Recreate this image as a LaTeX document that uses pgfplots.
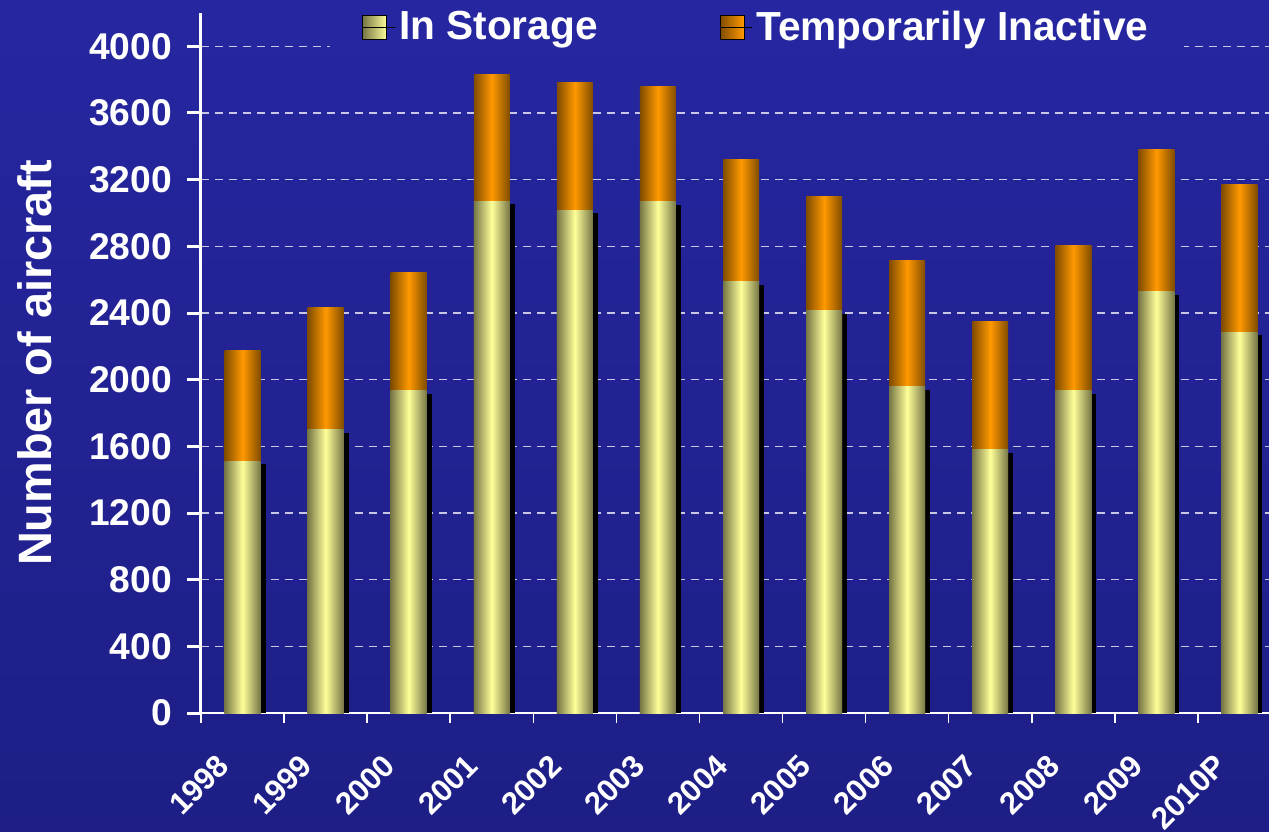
\documentclass[border=0pt]{standalone}
\usepackage{pgfplots}
\pgfplotsset{compat=1.18}
\usepackage{pgfplotstable}
\usepackage{fontspec}
\setmainfont{Liberation Sans}

\definecolor{bgtop}{RGB}{38,38,160}
\definecolor{bgmid}{RGB}{51,51,204}
\definecolor{bgbot}{RGB}{30,30,134}
\definecolor{ydark}{RGB}{118,118,70}
\definecolor{ylight}{RGB}{255,255,153}
\definecolor{odark}{RGB}{128,76,0}
\definecolor{olight}{RGB}{255,153,0}

% storage = In Storage, total = In Storage + Temporarily Inactive (bar top)
\pgfplotstableread{
x storage total shadow
0  1510 2174 1492
1  1700 2432 1682
2  1934 2642 1916
3  3070 3830 3052
4  3016 3782 2998
5  3068 3758 3050
6  2588 3320 2570
7  2414 3098 2396
8  1958 2714 1940
9  1580 2348 1562
10 1934 2804 1916
11 2528 3380 2510
12 2284 3170 2266
}\datatable

\begin{document}
\begin{tikzpicture}
\useasboundingbox (0,0) rectangle (634.5pt,415.5pt);
\shade[top color=bgtop, middle color=bgmid, bottom color=bgbot] (0,0) rectangle (634.5pt,415.5pt);
\clip (0,0) rectangle (634.5pt,415.5pt);

\begin{axis}[
  scale only axis,
  width=540pt, height=350pt,
  at={(100.5pt,59pt)}, anchor=south west,
  xmin=-0.5, xmax=12.5,
  ymin=0, ymax=4200,
  axis x line=bottom, axis y line=left,
  x axis line style={-, white, line width=0.8pt},
  y axis line style={-, white, line width=1.5pt},
  ytick={0,400,...,4000},
  ymajorgrids,
  grid style={white, opacity=0.75, dash pattern=on 4pt off 3pt, line width=0.6pt},
  tick align=outside,
  ytick style={white, line width=1.5pt},
  major tick length=7pt,
  xtick={0,...,12},
  xticklabels={1998,1999,2000,2001,2002,2003,2004,2005,2006,2007,2008,2009,2010P},
  major x tick style={draw=none},
  minor xtick={-0.5,0.5,...,12.5},
  minor x tick style={white, line width=0.8pt},
  minor tick length=5pt,
  /pgf/number format/assume math mode=true,
  /pgf/number format/1000 sep={},
  yticklabel style={text=white, font=\fontsize{18.6}{22}\selectfont\bfseries, anchor=east, xshift=-4pt},
  xticklabel style={text=white, font=\fontsize{15.5}{18}\selectfont\bfseries, rotate=45, anchor=east, xshift=-15pt, yshift=-5pt},
  ylabel={Number of aircraft},
  ylabel style={text=white, font=\fontsize{23.4}{28}\selectfont\bfseries, at={(axis description cs:-0.1537,0.5)}, anchor=center},
  legend columns=2,
  legend style={at={(0.1194,0.98)}, anchor=west, fill=bgtop, draw=none,
    inner xsep=16pt, inner ysep=2pt,
    text=white, font=\fontsize{20.3}{24}\selectfont\bfseries,
    /tikz/every even column/.append style={column sep=59pt}},
]
\pgfplotsinvokeforeach{0,...,12}{
  \addplot[ybar, bar width=18pt, bar shift=2.5pt, fill=black, draw=none, forget plot,
    restrict x to domain=#1:#1] table[x=x, y=shadow] {\datatable};
}
\pgfplotsinvokeforeach{0,...,12}{
  \addplot[ybar, bar width=18pt, bar shift=0pt, draw=none, forget plot,
    left color=odark, right color=odark, middle color=olight,
    restrict x to domain=#1:#1] table[x=x, y=total] {\datatable};
}
\pgfplotsinvokeforeach{0,...,12}{
  \addplot[ybar, bar width=18pt, bar shift=0pt, draw=none, forget plot,
    left color=ydark, right color=ydark, middle color=ylight,
    restrict x to domain=#1:#1] table[x=x, y=storage] {\datatable};
}
\addlegendimage{legend image code/.code={\shade[left color=ydark, right color=ylight] (0pt,-6pt) rectangle (12pt,6pt); \path (0pt,0pt) -- (16pt,0pt);}}
\addlegendentry{In Storage}
\addlegendimage{legend image code/.code={\shade[left color=odark, right color=olight] (0pt,-6pt) rectangle (12pt,6pt); \path (0pt,0pt) -- (16pt,0pt);}}
\addlegendentry{Temporarily Inactive}
\end{axis}
\end{tikzpicture}
\end{document}
